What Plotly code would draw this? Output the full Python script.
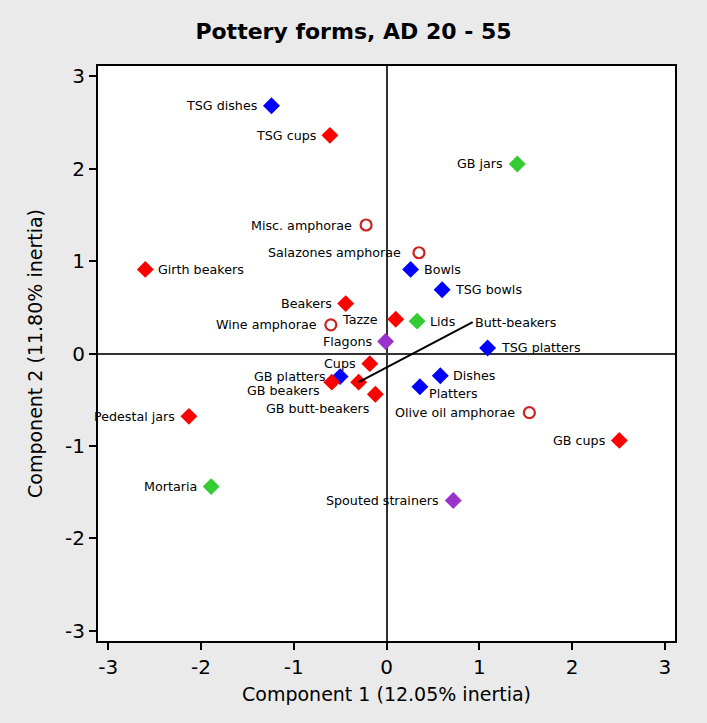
import plotly.graph_objects as go

# ---- data ----
names = ["TSG dishes", "Bowls", "TSG bowls", "TSG platters", "GB platters", "Dishes", "Platters",
         "TSG cups", "Girth beakers", "Beakers", "Tazze", "Cups", "GB beakers", "Butt-beakers",
         "GB butt-beakers", "Pedestal jars", "GB cups",
         "GB jars", "Lids", "Mortaria",
         "Flagons", "Spouted strainers",
         "Misc. amphorae", "Salazones amphorae", "Wine amphorae", "Olive oil amphorae"]
comp1 = [-1.24, 0.26, 0.60, 1.09, -0.50, 0.58, 0.36,
         -0.61, -2.60, -0.44, 0.10, -0.18, -0.59, -0.30,
         -0.12, -2.13, 2.51,
         1.41, 0.33, -1.89,
         -0.01, 0.72,
         -0.22, 0.35, -0.60, 1.54]
comp2 = [2.68, 0.91, 0.69, 0.06, -0.25, -0.24, -0.36,
         2.36, 0.91, 0.54, 0.37, -0.11, -0.31, -0.31,
         -0.44, -0.68, -0.94,
         2.05, 0.35, -1.44,
         0.13, -1.59,
         1.39, 1.09, 0.31, -0.64]
group = ["blue"] * 7 + ["red"] * 10 + ["green"] * 3 + ["purple"] * 2 + ["amph"] * 4
tick_vals = [-3, -2, -1, 0, 1, 2, 3]
tick_text = ["-3", "-2", "-1", "0", "1", "2", "3"]

# label placement (style)
label_pos = {"Girth beakers": "r", "Bowls": "r", "TSG bowls": "r", "TSG platters": "r",
             "Lids": "r", "Dishes": "r", "Platters": "br", "GB butt-beakers": "bl",
             "GB beakers": "bl2", "Butt-beakers": "arrow", "Tazze": "l2",
             "Salazones amphorae": "l2"}

styles = {
    "blue": dict(symbol="diamond", color="#0000FF", size=13),
    "red": dict(symbol="diamond", color="#FF0000", size=13),
    "green": dict(symbol="diamond", color="#33CC33", size=13),
    "purple": dict(symbol="diamond", color="#9933CC", size=13),
    "amph": dict(symbol="circle-open", color="#CC2222", size=11, line=dict(width=2.2, color="#CC2222")),
}

fig = go.Figure()
for g in ["blue", "red", "green", "purple", "amph"]:
    idx = [i for i, gg in enumerate(group) if gg == g]
    st = styles[g]
    mk = dict(symbol=st["symbol"], color=st["color"], size=st["size"])
    if "line" in st:
        mk["line"] = st["line"]
    else:
        mk["line"] = dict(width=0)
    fig.add_trace(go.Scatter(x=[comp1[i] for i in idx], y=[comp2[i] for i in idx],
                             mode="markers", marker=mk, hoverinfo="text",
                             text=[names[i] for i in idx], showlegend=False, cliponaxis=False))

lab_font = dict(family="DejaVu Sans", size=12.7, color="black")
for n, x, y in zip(names, comp1, comp2):
    p = label_pos.get(n, "l")
    if p == "arrow":
        fig.add_annotation(x=x, y=y, text=n, showarrow=True, arrowhead=0, arrowwidth=2,
                           arrowcolor="black", ax=114, ay=-60, xanchor="left", yanchor="middle",
                           standoff=0, font=lab_font)
        continue
    kw = dict(x=x, y=y, text=n, showarrow=False, font=lab_font)
    if p == "l":
        kw.update(xanchor="right", yanchor="middle", xshift=-12)
    elif p == "l2":
        kw.update(xanchor="right", yanchor="middle", xshift=-16)
    elif p == "r":
        kw.update(xanchor="left", yanchor="middle", xshift=11)
    elif p == "br":
        kw.update(xanchor="left", yanchor="middle", xshift=7, yshift=-7)
    elif p == "bl":
        kw.update(xanchor="right", yanchor="middle", xshift=-4, yshift=-14)
    elif p == "bl2":
        kw.update(xanchor="right", yanchor="middle", xshift=-10, yshift=-8)
    fig.add_annotation(**kw)

axis_common = dict(range=[-3.11, 3.11], tickvals=tick_vals, ticktext=tick_text,
                   ticks="outside", ticklen=7, tickwidth=2, tickcolor="black",
                   showgrid=False, zeroline=True, zerolinecolor="#333333", zerolinewidth=2,
                   showline=True, linecolor="black", linewidth=2, mirror=True,
                   tickfont=dict(family="DejaVu Sans", size=20, color="black"))

fig.update_layout(
    width=707, height=723,
    paper_bgcolor="#EAEAEA", plot_bgcolor="white",
    margin=dict(l=98, r=32, t=66, b=82),
    title=dict(text="<b>Pottery forms, AD 20 - 55</b>", x=0.5, xanchor="center",
               y=0.957, yanchor="middle",
               font=dict(family="DejaVu Sans", size=22, color="black")),
    xaxis=dict(axis_common, title=dict(text="Component 1 (12.05% inertia)", standoff=10,
                                       font=dict(family="DejaVu Sans", size=19, color="black"))),
    yaxis=dict(axis_common, title=dict(text="Component 2 (11.80% inertia)", standoff=17,
                                       font=dict(family="DejaVu Sans", size=19, color="black"))),
)

fig.write_html("out.html")
